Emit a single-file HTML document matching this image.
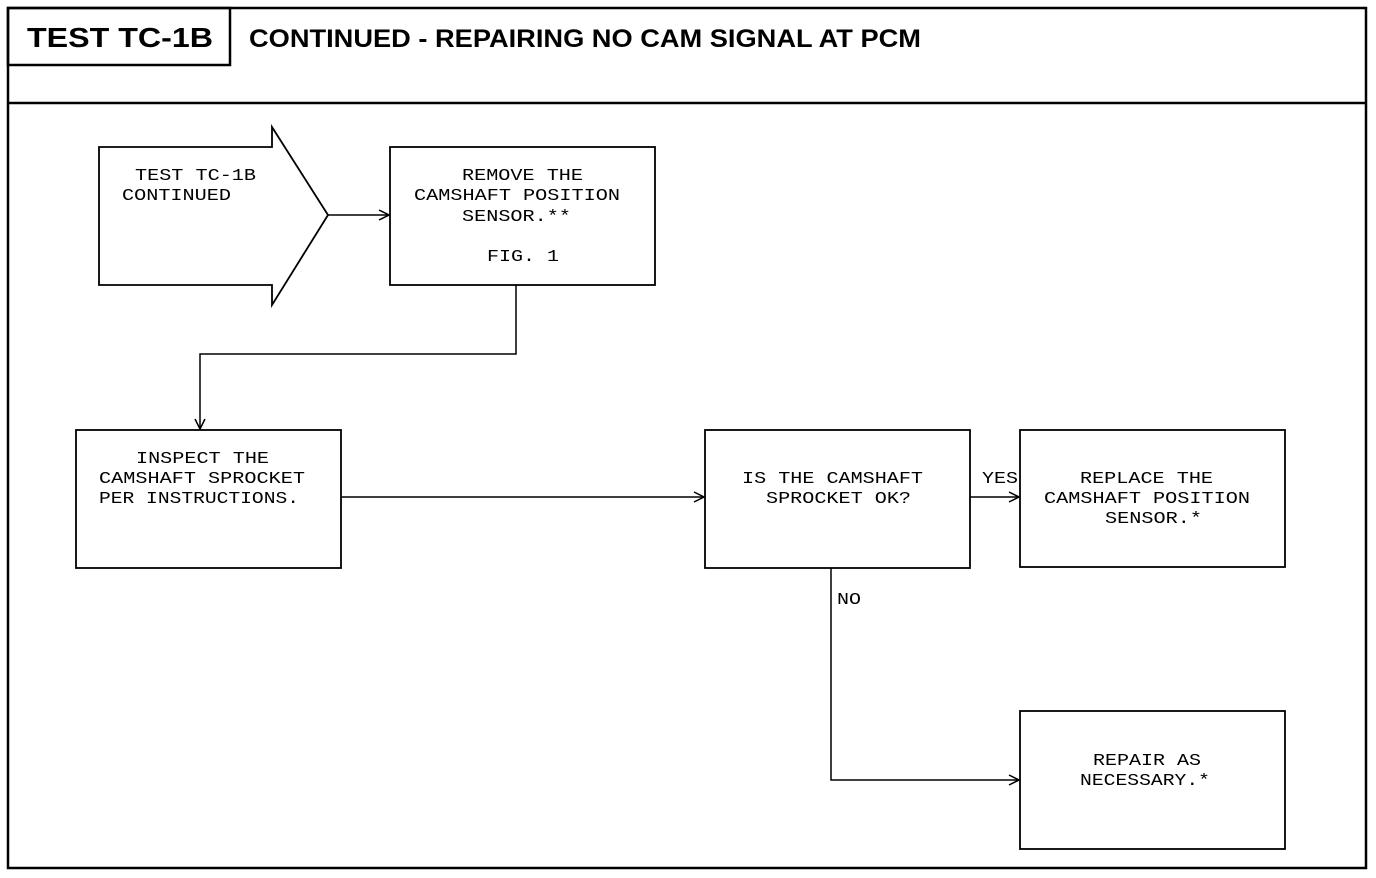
<!DOCTYPE html>
<html><head><meta charset="utf-8"><style>
html,body{margin:0;padding:0;background:#fff;}
svg{display:block}
.m{font-family:"Liberation Mono",monospace;font-size:17px;fill:#000}
.h{font-family:"Liberation Sans",sans-serif;font-weight:bold;fill:#000}
</style></head><body>
<svg width="1376" height="878" viewBox="0 0 1376 878" xmlns="http://www.w3.org/2000/svg">
<defs><marker id="a" markerWidth="12" markerHeight="12" refX="11" refY="6" orient="auto" markerUnits="userSpaceOnUse"><path d="M1,1 L11,6 L1,11" fill="none" stroke="#000" stroke-width="1.5"/></marker></defs>
<g fill="none" stroke="#000">
<rect x="8" y="8" width="1358" height="860" stroke-width="2.5"/>
<line x1="8" y1="103" x2="1366" y2="103" stroke-width="2.5"/>
<rect x="8" y="8" width="222" height="57" stroke-width="2.5"/>
<path d="M99,147 H272 V127 L328,215 L272,305 V285 H99 Z" stroke-width="1.8"/>
<rect x="390" y="147" width="265" height="138" stroke-width="1.8"/>
<rect x="76" y="430" width="265" height="138" stroke-width="1.8"/>
<rect x="705" y="430" width="265" height="138" stroke-width="1.8"/>
<rect x="1020" y="430" width="265" height="137" stroke-width="1.8"/>
<rect x="1020" y="711" width="265" height="138" stroke-width="1.8"/>
<g stroke-width="1.5">
<line x1="328" y1="215" x2="389" y2="215" marker-end="url(#a)"/>
<path d="M516,285 V354 H200 V429" marker-end="url(#a)"/>
<line x1="341" y1="497" x2="704" y2="497" marker-end="url(#a)"/>
<line x1="970" y1="497" x2="1019" y2="497" marker-end="url(#a)"/>
<path d="M831,568 V780 H1019" marker-end="url(#a)"/>
</g>
</g>
<text class="h" x="27" y="47" font-size="28" textLength="186" lengthAdjust="spacingAndGlyphs">TEST TC-1B</text>
<text class="h" x="249" y="47" font-size="25" textLength="672" lengthAdjust="spacingAndGlyphs">CONTINUED - REPAIRING NO CAM SIGNAL AT PCM</text>
<g class="m">
<text x="135" y="180" textLength="121" lengthAdjust="spacingAndGlyphs">TEST TC-1B</text>
<text x="122" y="200" textLength="109" lengthAdjust="spacingAndGlyphs">CONTINUED</text>
<text x="462" y="180" textLength="121" lengthAdjust="spacingAndGlyphs">REMOVE THE</text>
<text x="414" y="200" textLength="206" lengthAdjust="spacingAndGlyphs">CAMSHAFT POSITION</text>
<text x="462" y="221" textLength="109" lengthAdjust="spacingAndGlyphs">SENSOR.**</text>
<text x="487" y="261" textLength="72" lengthAdjust="spacingAndGlyphs">FIG. 1</text>
<text x="136" y="463" textLength="133" lengthAdjust="spacingAndGlyphs">INSPECT THE</text>
<text x="99" y="483" textLength="206" lengthAdjust="spacingAndGlyphs">CAMSHAFT SPROCKET</text>
<text x="99" y="503" textLength="200" lengthAdjust="spacingAndGlyphs">PER INSTRUCTIONS.</text>
<text x="742" y="483" textLength="181" lengthAdjust="spacingAndGlyphs">IS THE CAMSHAFT</text>
<text x="766" y="503" textLength="145" lengthAdjust="spacingAndGlyphs">SPROCKET OK?</text>
<text x="1080" y="483" textLength="133" lengthAdjust="spacingAndGlyphs">REPLACE THE</text>
<text x="1044" y="503" textLength="206" lengthAdjust="spacingAndGlyphs">CAMSHAFT POSITION</text>
<text x="1105" y="523" textLength="97" lengthAdjust="spacingAndGlyphs">SENSOR.*</text>
<text x="1093" y="765" textLength="108" lengthAdjust="spacingAndGlyphs">REPAIR AS</text>
<text x="1080" y="785" textLength="130" lengthAdjust="spacingAndGlyphs">NECESSARY.*</text>
<text x="982" y="483" textLength="36" lengthAdjust="spacingAndGlyphs">YES</text>
<text x="837" y="604" textLength="24" lengthAdjust="spacingAndGlyphs">NO</text>
</g>
</svg>
</body></html>
